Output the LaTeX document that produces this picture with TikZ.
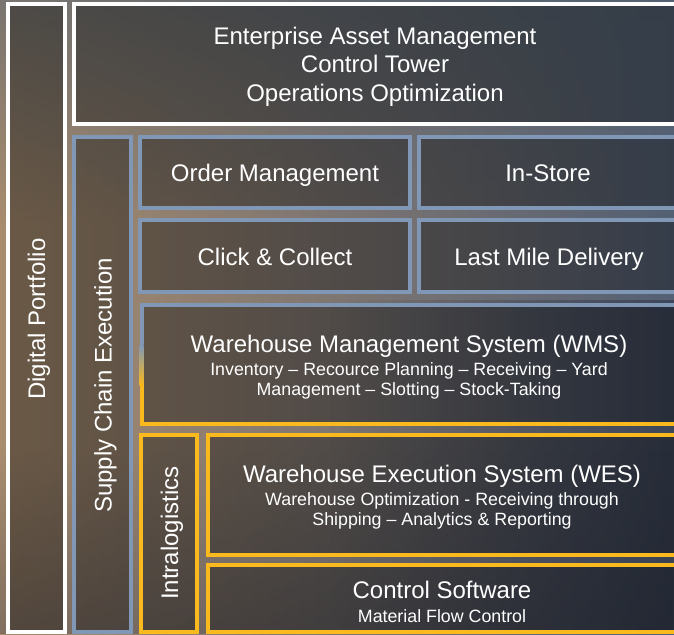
\documentclass[tikz,border=0pt]{standalone}
\usepackage{fontspec}
\setmainfont{Liberation Sans}
\usetikzlibrary{fadings}
\definecolor{bgtan}{RGB}{168,140,110}
\definecolor{bgslate}{RGB}{84,96,116}
\definecolor{bgtop}{RGB}{82,98,114}
\definecolor{bgnavy}{RGB}{40,46,64}
\definecolor{edgeblue}{RGB}{128,152,182}
\definecolor{edgegold}{RGB}{250,186,30}
\tikzset{
	panel/.style={fill=black, fill opacity=0.36, line width=4pt},
	bigtxt/.style={text=white, inner sep=0pt, font=\fontsize{24}{28.5}\selectfont},
	smalltxt/.style={text=white, inner sep=0pt, align=center, font=\fontsize{17.8}{20}\selectfont}
}
\begin{document}
\begin{tikzpicture}[x=1pt,y=-1pt]
	\useasboundingbox (0,0) rectangle (674,634);
	\clip (0,0) rectangle (674,634);
	\shade [left color=bgtan, right color=bgslate] (0,0) rectangle (674,634);
	\fill [bgtop, path fading=south, opacity=0.55] (0,0) rectangle (674,220);
	\fill [bgnavy, path fading=west, opacity=0.5] (330,300) rectangle (674,634);
	\fill [bgnavy, path fading=north, opacity=0.3] (0,450) rectangle (674,634);
	\filldraw [panel, draw=white] (8,4.5) rectangle (65,632);
	\filldraw [panel, draw=white] (74,4.5) rectangle (679,123.5);
	\filldraw [panel, draw=edgeblue] (74,137) rectangle (130.5,632);
	\filldraw [panel, draw=edgeblue] (140,136.5) rectangle (410,207.5);
	\filldraw [panel, draw=edgeblue] (419,136.5) rectangle (679,207.5);
	\filldraw [panel, draw=edgeblue] (140,220) rectangle (410,291.5);
	\filldraw [panel, draw=edgeblue] (419,220) rectangle (679,291.5);
	\fill [panel] (141.5,305) rectangle (679,424);
	\draw [edgeblue, line width=4pt] (139.5,305) -- (681,305);
	\draw [edgegold, line width=4pt] (139.5,424) -- (681,424);
	\fill [edgeblue] (139.5,303) rectangle (143.5,345);
	\shade [top color=edgeblue, bottom color=edgegold] (139.5,345) rectangle (143.5,385);
	\fill [edgegold] (139.5,385) rectangle (143.5,426);
	\filldraw [panel, draw=edgegold] (141,435) rectangle (197,632);
	\filldraw [panel, draw=edgegold] (207.5,435) rectangle (679,554.5);
	\filldraw [panel, draw=edgegold] (207.5,564.5) rectangle (679,632);
	\node [bigtxt, rotate=90, anchor=base] (portfolio) at (45,319) {Digital Portfolio};
	\node [bigtxt, rotate=90, anchor=base] (supply) at (111.5,385.5) {Supply Chain Execution};
	\node [bigtxt, rotate=90, anchor=base] (intra) at (178,533) {Intralogistics};
	\node [bigtxt, align=center, anchor=north] (enterprise) at (375,26.8) {Enterprise Asset Management\\Control Tower\\Operations Optimization};
	\node [bigtxt, anchor=base] (order) at (275,181.5) {Order Management};
	\node [bigtxt, anchor=base] (instore) at (548,181.5) {In-Store};
	\node [bigtxt, anchor=base] (click) at (275,265) {Click \& Collect};
	\node [bigtxt, anchor=base] (lastmile) at (549,265) {Last Mile Delivery};
	\node [bigtxt, anchor=base] (wms) at (409,352) {Warehouse Management System (WMS)};
	\node [smalltxt, anchor=north] (wmstasks) at (409,362.3) {Inventory – Recource Planning – Receiving – Yard\\Management – Slotting – Stock-Taking};
	\node [bigtxt, anchor=base] (wes) at (442,482) {Warehouse Execution System (WES)};
	\node [smalltxt, anchor=north] (westasks) at (442,492) {Warehouse Optimization - Receiving through\\Shipping – Analytics \& Reporting};
	\node [bigtxt, anchor=base] (control) at (442,598) {Control Software};
	\node [smalltxt, anchor=base] (controltasks) at (442,622) {Material Flow Control};
\end{tikzpicture}
\end{document}
